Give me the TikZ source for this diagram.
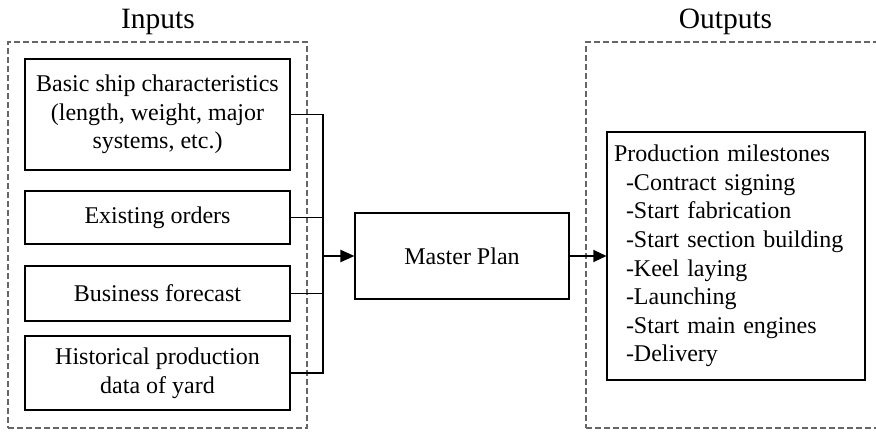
\documentclass[tikz,border=0pt]{standalone}
\usepackage{fontspec}
\setmainfont{Liberation Serif}
\usetikzlibrary{arrows.meta}

\begin{document}
\begin{tikzpicture}[x=1pt, y=-1pt,
  body/.style={font=\fontsize{24}{28.6}\selectfont},
  heading/.style={font=\fontsize{29.5}{34}\selectfont, anchor=base, inner sep=0pt},
  frame/.style={draw=black!60, line width=1.1pt, dash pattern=on 6pt off 3pt, inner sep=0pt},
  inbox/.style={body, draw, line width=1.1pt, minimum width=265pt, align=center, inner sep=0pt},
  planbox/.style={body, draw, line width=1.1pt, minimum width=214pt, minimum height=86pt, inner sep=0pt},
  outbox/.style={body, draw, line width=1.1pt, text width=244pt, minimum height=248pt, inner sep=7pt, align=left},
  wire/.style={line width=1.1pt},
  feed/.style={line width=2.2pt, -{Triangle[length=14pt, width=12pt]}},
  result/.style={line width=1.1pt, -{Triangle[length=13pt, width=12pt]}}
]
\useasboundingbox (0,0) rectangle (876,433);

% group frames and their headings
\node[frame, minimum width=299pt, minimum height=386pt] (inframe) at (157.5,235) {};
\node[frame, minimum width=300pt, minimum height=386pt] (outframe) at (736,235) {};
\node[heading] (intitle) at (158,29) {Inputs};
\node[heading] (outtitle) at (725.5,29) {Outputs};

% inputs
\node[inbox, minimum height=111pt] (basic) at (157.5,114.5)
  {Basic ship characteristics\\(length, weight, major\\systems, etc.)};
\node[inbox, minimum height=53pt] (orders) at (157.5,217.5) {Existing orders};
\node[inbox, minimum height=55pt] (forecast) at (157.5,293.5) {Business forecast};
\node[inbox, minimum height=74pt] (history) at (157.5,373)
  {Historical production\\data of yard};

% plan and outputs
\node[planbox] (plan) at (462,256) {Master Plan};
\node[outbox] (miles) at (736,256)
  {Production milestones\\
   \hspace*{12pt}-Contract signing\\
   \hspace*{12pt}-Start fabrication\\
   \hspace*{12pt}-Start section building\\
   \hspace*{12pt}-Keel laying\\
   \hspace*{12pt}-Launching\\
   \hspace*{12pt}-Start main engines\\
   \hspace*{12pt}-Delivery};

% collector bus
\coordinate (join) at (323,256);
\draw[wire] (basic.east) -| (join) |- (history.east);
\draw[wire] (orders.east) -- (orders.east -| join);
\draw[wire] (forecast.east) -- (forecast.east -| join);
\draw[line width=2pt] (orders.east -| join) -- (forecast.east -| join);
\draw[feed] (join) -- (plan.west);
\draw[result] (plan.east) -- (miles.west);
\end{tikzpicture}
\end{document}
